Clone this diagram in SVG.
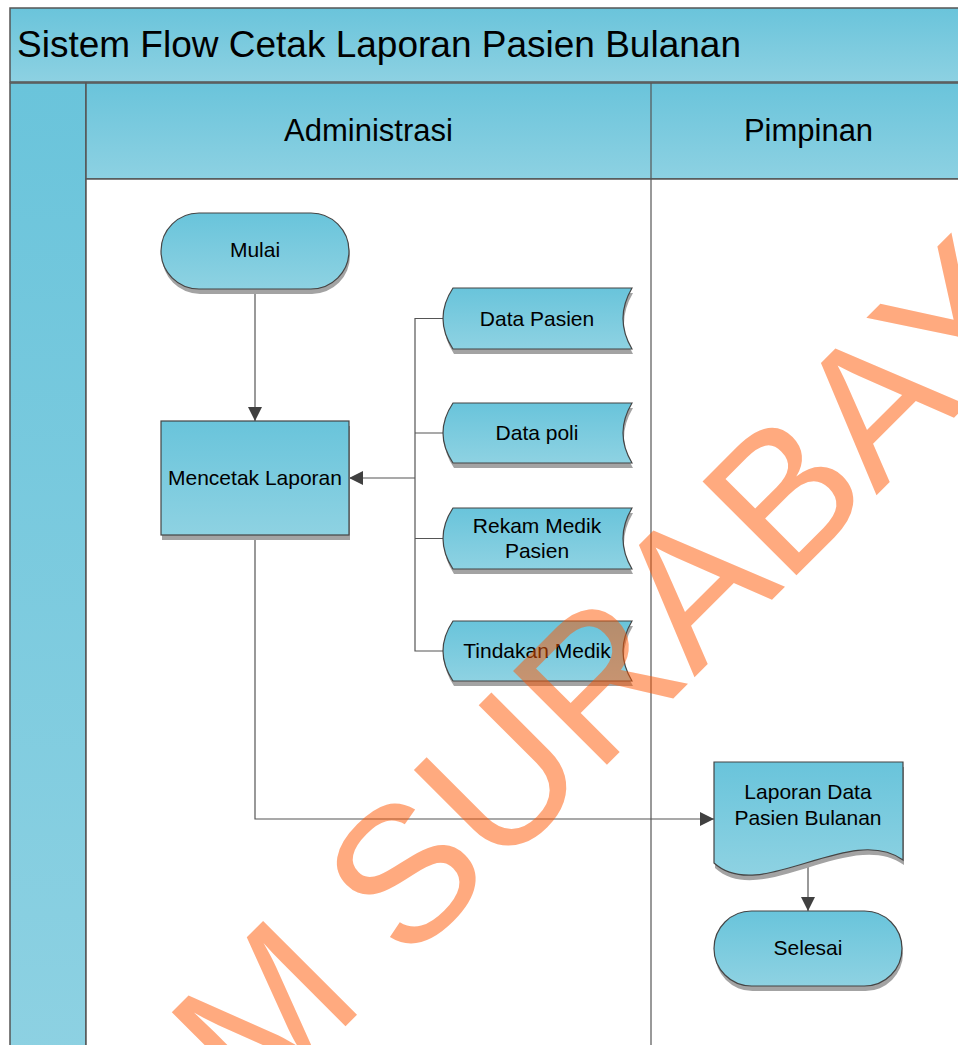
<svg xmlns="http://www.w3.org/2000/svg" width="958" height="1045" viewBox="0 0 958 1045">
  <defs>
    <linearGradient id="band" x1="0" y1="0" x2="0" y2="1">
      <stop offset="0" stop-color="#6AC4DB"/>
      <stop offset="1" stop-color="#8DD1E2"/>
    </linearGradient>
    <linearGradient id="fillShape" x1="0" y1="0" x2="0" y2="1">
      <stop offset="0" stop-color="#69C4DB"/>
      <stop offset="1" stop-color="#8ED2E2"/>
    </linearGradient>
    <marker id="arrow" viewBox="0 0 10 10" refX="10" refY="5" markerWidth="14" markerHeight="14" markerUnits="userSpaceOnUse" orient="auto">
      <path d="M0,0 L10,5 L0,10 Z" fill="#404040"/>
    </marker>
    <style>
      text { font-family: "Liberation Sans", Arial, sans-serif; fill: #000; }
      .frame { stroke: #555; stroke-width: 1.5; }
      .shape { fill: url(#fillShape); stroke: #444; stroke-width: 1.2; }
      .shadow { fill: #a3a3a3; }
      .lbl { font-size: 21px; text-anchor: middle; }
      .lane { font-size: 31px; text-anchor: middle; }
      .conn { fill: none; stroke: #555; stroke-width: 1.2; }
    </style>
  </defs>

  <!-- pool frame -->
  <g id="pool">
    <rect x="10" y="8" width="960" height="74" fill="url(#band)" class="frame"/>
    <text x="17" y="57" font-size="37">Sistem Flow Cetak Laporan Pasien Bulanan</text>
    <rect x="10" y="83" width="76" height="970" fill="url(#band)" class="frame"/>
    <rect x="86" y="83" width="880" height="96" fill="url(#band)" class="frame"/>
    <rect x="86" y="179" width="880" height="874" fill="#fff" class="frame"/>
    <line x1="651" y1="83" x2="651" y2="1045" stroke="#555" stroke-width="1.2"/>
    <text class="lane" x="368.5" y="141">Administrasi</text>
    <text class="lane" x="808.5" y="141">Pimpinan</text>
  </g>

  <!-- connectors -->
  <g id="connectors">
    <path class="conn" d="M255,289 V421" marker-end="url(#arrow)"/>
    <path class="conn" d="M443,318.5 H415 V651 H443 M415,433 H443 M415,538.5 H443"/>
    <path class="conn" d="M415,478 H349" marker-end="url(#arrow)"/>
    <path class="conn" d="M255,535 V819 H714" marker-end="url(#arrow)"/>
    <path class="conn" d="M808,861 V911" marker-end="url(#arrow)"/>
  </g>

  <!-- start -->
  <g id="mulai">
    <rect class="shadow" x="162" y="218" width="188" height="76" rx="38"/>
    <rect class="shape" x="161" y="213" width="188" height="76" rx="38"/>
    <text class="lbl" x="255" y="257">Mulai</text>
  </g>

  <!-- process -->
  <g id="mencetak">
    <rect class="shadow" x="162" y="426" width="188" height="114"/>
    <rect class="shape" x="161" y="421" width="188" height="114"/>
    <text class="lbl" x="255" y="485">Mencetak Laporan</text>
  </g>

  <!-- stored data -->
  <g id="data-pasien">
    <path class="shadow" transform="translate(1,5)" d="M453,288 H632 Q614,318.5 632,349 H453 Q433,318.5 453,288 Z"/>
    <path class="shape" d="M453,288 H632 Q614,318.5 632,349 H453 Q433,318.5 453,288 Z"/>
    <text class="lbl" x="537" y="326">Data Pasien</text>
  </g>
  <g id="data-poli">
    <path class="shadow" transform="translate(1,5)" d="M453,403 H632 Q614,433 632,463 H453 Q433,433 453,403 Z"/>
    <path class="shape" d="M453,403 H632 Q614,433 632,463 H453 Q433,433 453,403 Z"/>
    <text class="lbl" x="537" y="440">Data poli</text>
  </g>
  <g id="rekam-medik">
    <path class="shadow" transform="translate(1,5)" d="M453,508 H632 Q614,538.5 632,569 H453 Q433,538.5 453,508 Z"/>
    <path class="shape" d="M453,508 H632 Q614,538.5 632,569 H453 Q433,538.5 453,508 Z"/>
    <text class="lbl" x="537" y="533">Rekam Medik</text>
    <text class="lbl" x="537" y="558">Pasien</text>
  </g>
  <g id="tindakan-medik">
    <path class="shadow" transform="translate(1,5)" d="M453,621 H632 Q614,651 632,681 H453 Q433,651 453,621 Z"/>
    <path class="shape" d="M453,621 H632 Q614,651 632,681 H453 Q433,651 453,621 Z"/>
    <text class="lbl" x="537" y="658">Tindakan Medik</text>
  </g>

  <!-- document -->
  <g id="laporan">
    <path class="shadow" transform="translate(1,5)" d="M714,762 H903 V860 C850,822 760,905 714,863 Z"/>
    <path class="shape" d="M714,762 H903 V860 C850,822 760,905 714,863 Z"/>
    <text class="lbl" x="808" y="799">Laporan Data</text>
    <text class="lbl" x="808" y="825">Pasien Bulanan</text>
  </g>

  <!-- end -->
  <g id="selesai">
    <rect class="shadow" x="715" y="916" width="188" height="75" rx="37.5"/>
    <rect class="shape" x="714" y="911" width="188" height="75" rx="37.5"/>
    <text class="lbl" x="808" y="955">Selesai</text>
  </g>

  <!-- watermark -->
  <text x="-610" y="970" transform="rotate(-45)" font-size="193" fill-opacity="0.5" style="fill:#FF5500">M SURABAYA</text>
</svg>
